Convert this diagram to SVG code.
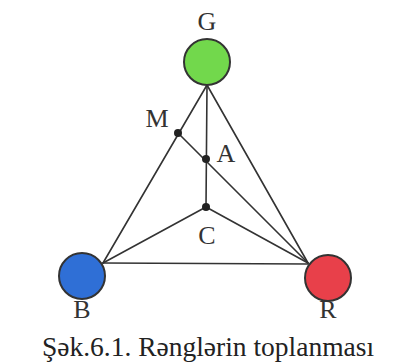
<svg xmlns="http://www.w3.org/2000/svg" width="397" height="363" viewBox="0 0 397 363">
<style>
.lbl{font-family:"Liberation Serif","Times New Roman",serif;font-size:26px;fill:#333}
.cap{font-family:"Liberation Serif","Times New Roman",serif;font-size:27.5px;fill:#222}
.node{stroke:#333;stroke-width:2}
.ln{stroke:#333;stroke-width:1.6;fill:none;stroke-linecap:round}
.dot{fill:#222}
</style>
<rect width="397" height="363" fill="#fff"/>
<g id="connectors">
<line class="ln" x1="207" y1="85" x2="103" y2="263"/>
<line class="ln" x1="207" y1="85" x2="308" y2="263"/>
<line class="ln" x1="207" y1="85" x2="206" y2="207"/>
<line class="ln" x1="178" y1="133" x2="308" y2="263"/>
<line class="ln" x1="206" y1="207" x2="103" y2="263"/>
<line class="ln" x1="206" y1="207" x2="308" y2="263"/>
<line class="ln" x1="103" y1="263" x2="308" y2="264"/>
</g>
<g id="G"><circle class="node" cx="207" cy="62" r="23" fill="#72d84c"/><text class="lbl" x="207" y="30" text-anchor="middle">G</text></g>
<g id="B"><circle class="node" cx="82" cy="276" r="23" fill="#2f6fd6"/><text class="lbl" x="82" y="318" text-anchor="middle">B</text></g>
<g id="R"><circle class="node" cx="328" cy="278" r="23" fill="#e8404a"/><text class="lbl" x="328" y="318" text-anchor="middle">R</text></g>
<g id="M"><circle class="dot" cx="178" cy="133" r="4"/><text class="lbl" x="157" y="127" text-anchor="middle">M</text></g>
<g id="A"><circle class="dot" cx="206" cy="159" r="4"/><text class="lbl" x="226" y="162" text-anchor="middle">A</text></g>
<g id="C"><circle class="dot" cx="206" cy="207" r="4"/><text class="lbl" x="207" y="244" text-anchor="middle">C</text></g>
<text class="cap" x="208" y="356" text-anchor="middle">Şək.6.1. Rənglərin toplanması</text>
</svg>
